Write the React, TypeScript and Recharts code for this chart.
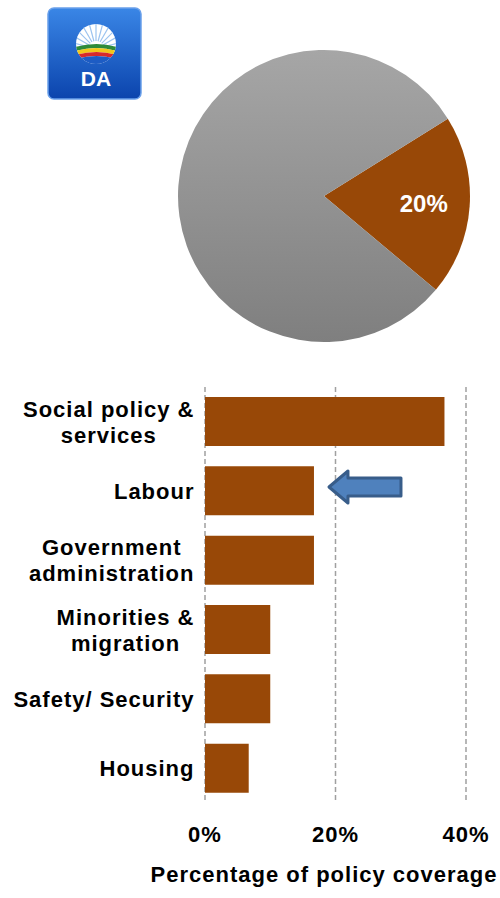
import { PieChart, Pie, Cell, BarChart, Bar, XAxis, YAxis, CartesianGrid, ReferenceDot } from 'recharts';

const FONT = '"Liberation Sans", Arial, sans-serif';
const BROWN = '#984807';

// pie: share of DA manifesto vs rest
const shareNames = ['DA', 'Other'];
const shareValues = [20, 80];

// bar: policy coverage by field (%)
const fields = [
  'Social policy &\nservices',
  'Labour',
  'Government\nadministration',
  'Minorities &\nmigration',
  'Safety/ Security',
  'Housing',
];
const coverage = [36.7, 16.7, 16.7, 10, 10, 6.7];
const xTicks = [0, 20, 40];

const pieData = shareNames.map((name, i) => ({ name, value: shareValues[i] }));
const barData = fields.map((name, i) => ({ name, value: coverage[i] }));

let ctx: CanvasRenderingContext2D | null = null;
function measure(s: string) {
  if (!ctx) {
    ctx = document.createElement('canvas').getContext('2d');
  }
  if (!ctx) return s.length * 12;
  ctx.font = `bold 22px ${FONT}`;
  return ctx.measureText(s).width + (s.length - 1) * 1;
}

function YTick({ x, y, payload }: any) {
  const lines: string[] = String(payload.value).split('\n');
  const maxW = Math.max(...lines.map(measure));
  const right = x - 3;
  const cx = right - maxW / 2;
  return (
    <text textAnchor="middle" fontFamily={FONT} fontWeight="bold" fontSize={22} letterSpacing={1} fill="#000">
      {lines.map((l, i) => (
        <tspan key={i} x={cx} y={y + 8 + (i - (lines.length - 1) / 2) * 26}>
          {l}
        </tspan>
      ))}
    </text>
  );
}

function XTick({ x, y, payload }: any) {
  return (
    <text x={x} y={y + 31} textAnchor="middle" fontFamily={FONT} fontWeight="bold" fontSize={22} letterSpacing={1} fill="#000">
      {payload.value}%
    </text>
  );
}

function Arrow({ cx, cy }: any) {
  const y = cy - 4;
  const d = `M${cx} ${y} L${cx + 19} ${y - 16} L${cx + 19} ${y - 9} L${cx + 72} ${y - 9} L${cx + 72} ${y + 9} L${cx + 19} ${y + 9} L${cx + 19} ${y + 16} Z`;
  return <path d={d} fill="#4f81bd" stroke="#385d8a" strokeWidth={3} strokeLinejoin="round" />;
}

function PieLabel({ cx, cy, midAngle, index }: any) {
  if (index !== 0) return null;
  const r = 100;
  const rad = (midAngle * Math.PI) / 180;
  const lx = cx + r * Math.cos(rad);
  const ly = cy - r * Math.sin(rad);
  return (
    <text x={lx} y={ly + 9} textAnchor="middle" fill="#fff" fontFamily={FONT} fontWeight="bold" fontSize={24}>
      {shareValues[0]}%
    </text>
  );
}

function Logo() {
  const rays = Array.from({ length: 13 }, (_, i) => 180 + (i * 180) / 12);
  return (
    <svg width={96} height={94} style={{ position: 'absolute', left: 47, top: 7 }}>
      <defs>
        <linearGradient id="logoBg" x1="0" y1="0" x2="0" y2="1">
          <stop offset="0%" stopColor="#3a86e6" />
          <stop offset="100%" stopColor="#0b44ad" />
        </linearGradient>
        <clipPath id="sunClip">
          <circle cx={49} cy={37} r={20} />
        </clipPath>
      </defs>
      <rect x={1} y={1} width={93} height={91} rx={6} fill="url(#logoBg)" stroke="#6aa0ea" strokeWidth={1.5} />
      <g clipPath="url(#sunClip)">
        <rect x={28} y={16} width={42} height={42} fill="#fff" />
        {rays.map((a, i) => {
          const r = (a * Math.PI) / 180;
          return (
            <line key={i} x1={49 + 8 * Math.cos(r)} y1={42 + 8 * Math.sin(r)} x2={49 + 30 * Math.cos(r)} y2={42 + 30 * Math.sin(r)} stroke="#9cc3ef" strokeWidth={1.2} />
          );
        })}
        <path d="M28 40 Q50 34 70 40 L70 44 Q50 38 28 44 Z" fill="#2e8b3a" />
        <path d="M28 44 Q50 38 70 44 L70 48 Q50 42 28 48 Z" fill="#f2c81a" />
        <path d="M28 48 Q50 42 70 48 L70 52 Q50 46 28 52 Z" fill="#d62a2a" />
        <path d="M28 52 Q50 46 70 52 L70 60 L28 60 Z" fill="#1d5cc4" />
      </g>
      <text x={49} y={79} textAnchor="middle" fill="#fff" fontFamily={FONT} fontWeight="bold" fontSize={21}>
        DA
      </text>
    </svg>
  );
}

export default function App() {
  return (
    <div style={{ position: 'relative', width: 500, height: 898, background: '#fff', overflow: 'hidden' }}>
      <style>{'body{margin:0}'}</style>
      <Logo />
      <div style={{ position: 'absolute', left: 0, top: 0 }}>
        <PieChart width={500} height={350} margin={{ top: 0, right: 0, bottom: 0, left: 0 }}>
          <defs>
            <linearGradient id="grayGrad" x1="0" y1="0" x2="0" y2="1">
              <stop offset="0%" stopColor="#a6a6a6" />
              <stop offset="100%" stopColor="#7f7f7f" />
            </linearGradient>
          </defs>
          <Pie
            data={pieData}
            dataKey="value"
            cx={324}
            cy={196}
            outerRadius={146}
            startAngle={-40}
            endAngle={320}
            stroke="none"
            labelLine={false}
            label={PieLabel}
            isAnimationActive={false}
          >
            <Cell fill={BROWN} />
            <Cell fill="url(#grayGrad)" />
          </Pie>
        </PieChart>
      </div>
      <div style={{ position: 'absolute', left: 0, top: 0 }}>
        <BarChart
          width={500}
          height={898}
          data={barData}
          layout="vertical"
          margin={{ top: 387, right: 34, left: 0, bottom: 0 }}
        >
          <CartesianGrid horizontal={false} stroke="#a0a0a0" strokeWidth={1.5} strokeDasharray="5 3" />
          <XAxis
            type="number"
            domain={[0, 40]}
            ticks={xTicks}
            axisLine={false}
            tickLine={false}
            height={95}
            tick={XTick}
            label={{
              content: () => (
                <text x={324} y={882} textAnchor="middle" fontFamily={FONT} fontWeight="bold" fontSize={22} letterSpacing={1} fill="#000">
                  Percentage of policy coverage
                </text>
              ),
            }}
          />
          <YAxis type="category" dataKey="name" width={205} axisLine={false} tickLine={false} tick={YTick} interval={0} />
          <Bar dataKey="value" fill={BROWN} barSize={49} isAnimationActive={false} />
          <ReferenceDot x={19} y="Labour" r={0} ifOverflow="visible" shape={Arrow} />
        </BarChart>
      </div>
    </div>
  );
}
